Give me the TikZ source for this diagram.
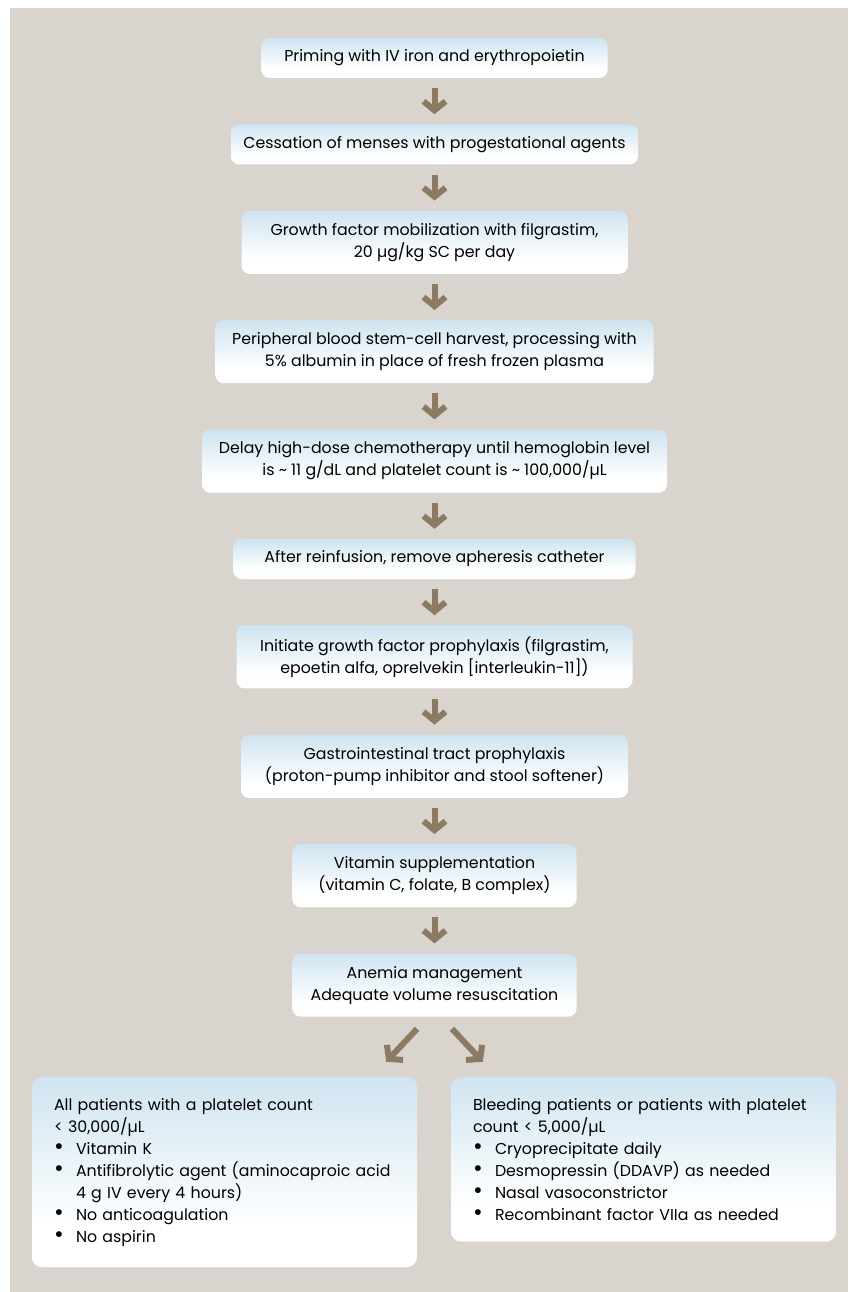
\documentclass[tikz,border=0pt]{standalone}
\usepackage{fontspec}
\usepackage{graphicx}
\setmainfont{Poppins}
\usetikzlibrary{positioning,arrows.meta}
\definecolor{bgbeige}{RGB}{217,212,205}
\definecolor{boxblue}{RGB}{176,211,231}
\definecolor{arrowbrown}{RGB}{141,122,99}
\pgfdeclareverticalshading{boxshade}{100bp}{color(0bp)=(white); color(36bp)=(white); color(100bp)=(boxblue)}
\newcommand{\bitem}{\makebox[22pt][l]{\raisebox{-0.5pt}{\scalebox{1.5}{\textbullet}}}}

\begin{document}
\begin{tikzpicture}[x=1pt, y=-1pt, node distance=46pt,
  every node/.style = {shape=rectangle, rounded corners=8pt,
    align=center, font=\fontsize{15.8}{22}\selectfont,
    shade, shading=boxshade, inner sep=0pt},
  stepbox/.style = {minimum height=40pt},
  twobox/.style = {minimum height=63pt},
  listbox/.style = {align=left, text width=341pt, inner xsep=22pt,
    inner ysep=21pt, rounded corners=10pt},
  flow/.style = {draw=arrowbrown, line width=6pt,
    -{Straight Barb[length=9pt, width=22pt]}}]

  \fill[white] (0,0) rectangle (848,1292);
  \fill[bgbeige] (10,8) rectangle (848,1292);

  \node[stepbox, minimum width=346pt] (iron) at (434.5,58) {Priming with IV iron and erythropoietin};
  \node[stepbox, minimum width=407pt, below=of iron] (menses) {Cessation of menses with progestational agents};
  \node[twobox, minimum width=386pt, below=of menses] (filgr) {Growth factor mobilization with filgrastim,\\ 20 µg/kg SC per day};
  \node[twobox, minimum width=438pt, below=of filgr] (harvest) {Peripheral blood stem-cell harvest, processing with\\ 5\% albumin in place of fresh frozen plasma};
  \node[twobox, minimum width=465pt, below=of harvest] (delay) {Delay high-dose chemotherapy until hemoglobin level\\ is \textasciitilde{} 11 g/dL and platelet count is \textasciitilde{} 100,000/µL};
  \node[stepbox, minimum width=402pt, below=of delay] (catheter) {After reinfusion, remove apheresis catheter};
  \node[twobox, minimum width=396pt, below=of catheter] (prophyl) {Initiate growth factor prophylaxis (filgrastim,\\ epoetin alfa, oprelvekin [interleukin-11])};
  \node[twobox, minimum width=387pt, below=of prophyl] (gitract) {Gastrointestinal tract prophylaxis\\ (proton-pump inhibitor and stool softener)};
  \node[twobox, minimum width=284pt, below=of gitract] (vitamin) {Vitamin supplementation\\ (vitamin C, folate, B complex)};
  \node[twobox, minimum width=284pt, below=of vitamin] (anemia) {Anemia management\\ Adequate volume resuscitation};

  % the two lists at the bottom
  \node[listbox, below=60pt of anemia, xshift=-210pt] (lowplt) {All patients with a platelet count\\
    < 30,000/µL\\
    \bitem Vitamin K\\
    \bitem Antifibrolytic agent (aminocaproic acid\\
    \hspace*{22pt}4 g IV every 4 hours)\\
    \bitem No anticoagulation\\
    \bitem No aspirin};
  \node[listbox, below=60pt of anemia, xshift=209pt] (bleed) {Bleeding patients or patients with platelet\\
    count < 5,000/µL\\
    \bitem Cryoprecipitate daily\\
    \bitem Desmopressin (DDAVP) as needed\\
    \bitem Nasal vasoconstrictor\\
    \bitem Recombinant factor VIIa as needed};

  \foreach \a/\b in {iron/menses, menses/filgr, filgr/harvest, harvest/delay,
    delay/catheter, catheter/prophyl, prophyl/gitract, gitract/vitamin, vitamin/anemia}
    \draw[flow, shorten <=10pt, shorten >=10pt] (\a) -- (\b);
  \draw[flow] ([xshift=-17.5pt, yshift=-12pt]anemia.south) -- ([xshift=-31pt, yshift=15pt]lowplt.north east);
  \draw[flow] ([xshift=17.5pt, yshift=-12pt]anemia.south) -- ([xshift=32pt, yshift=15pt]bleed.north west);
\end{tikzpicture}
\end{document}
